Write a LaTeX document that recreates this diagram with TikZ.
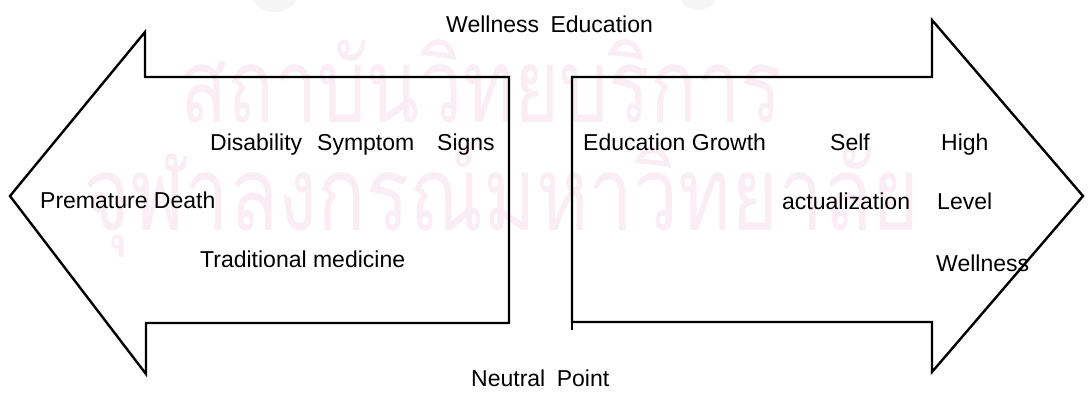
\documentclass[tikz,border=0pt]{standalone}
\usepackage{fontspec}
\setmainfont{Liberation Sans}
\newfontfamily\thaifont[Script=Thai]{Loma}
\definecolor{stamppink}{RGB}{250,237,244}

\begin{document}
\begin{tikzpicture}[
  x=1pt, y=-1pt,
  font=\fontsize{23}{26}\selectfont,
  outline/.style = {draw=black, line width=2.4pt, line join=miter},
  word/.style    = {anchor=base west, inner sep=0pt},
  stamp/.style   = {text=stamppink, inner sep=0pt, anchor=base west,
                    font=\thaifont\fontsize{86}{90}\selectfont}
]
\useasboundingbox (0,0) rectangle (1092,392);

% ---------- stamp behind the drawing ----------
\fill[black!4] (275,-4) ellipse [x radius=22pt, y radius=16pt];
\fill[black!4] (698,-4) ellipse [x radius=18pt, y radius=14pt];
\node[stamp] (inst) at (180,122) {\scalebox{0.9}[1.2]{สถาบันวิทยบริการ}};
\node[stamp] (univ) at (83,230)  {\scalebox{0.93}[1.2]{จุฬาลงกรณ์มหาวิทยาลัย}};

% ---------- the two arrows ----------
\draw[outline] (509,77) -- (145,77) -- (145,32) -- (10,196)
  -- (146,374) -- (146,323) -- (509,323) -- cycle;
\draw[outline] (572,77) -- (932,77) -- (932,20) -- (1083,196)
  -- (932,372) -- (932,322) -- (572,322) -- cycle;
\draw[outline] (572,322) -- (572,330);

% ---------- axis labels ----------
\node[word] (wed)  at (446,32)  {Wellness\hspace{0.5em}Education};
\node[word] (neut) at (471,386) {Neutral\hspace{0.5em}Point};

% ---------- left arrow ----------
\node[word] (dis)  at (210,150) {Disability};
\node[word] (sym)  at (317,150) {Symptom};
\node[word] (sig)  at (437,150) {Signs};
\node[word] (pd)   at (40,208)  {Premature Death};
\node[word] (trad) at (200,267) {Traditional medicine};

% ---------- right arrow ----------
\node[word] (edu)  at (583,150) {Education Growth};
\node[word] (self) at (830,150) {Self};
\node[word] (high) at (941,150) {High};
\node[word] (act)  at (782,209) {actualization};
\node[word] (lev)  at (937,209) {Level};
\node[word] (well) at (936,271) {Wellness};

\end{tikzpicture}
\end{document}
